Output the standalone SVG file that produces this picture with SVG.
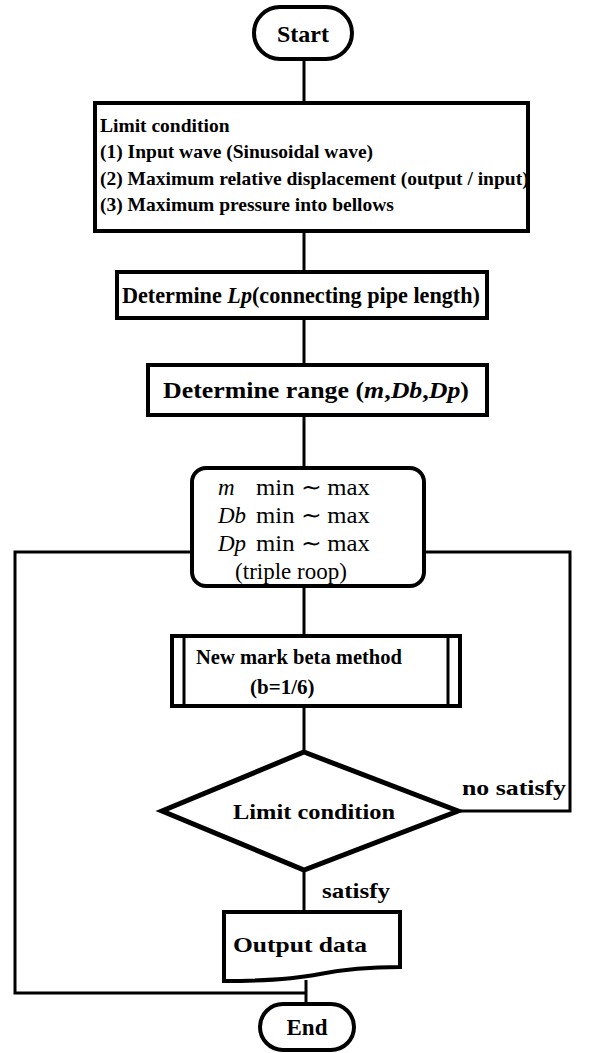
<svg xmlns="http://www.w3.org/2000/svg" width="605" height="1053" viewBox="0 0 605 1053">
<style>
.s{fill:#fff;stroke:#000;stroke-width:4}
.ln{fill:none;stroke:#000;stroke-width:3}
.b{font-family:"Liberation Serif","Times New Roman",serif;font-weight:bold;fill:#000}
.r{font-family:"Liberation Serif","Times New Roman",serif;fill:#000}
</style>
<rect width="605" height="1053" fill="#fff"/>
<g id="connectors">
<path class="ln" d="M304 60V103M304 231V272M304 318V365M304 415V468M304 586V636M304 706V752M304 870V912M306 980V1004"/>
<path class="ln" d="M192 552H15V993H306"/>
<path class="ln" d="M458 811H570V552H424"/>
</g>
<g id="start">
<rect class="s" x="254" y="7" width="98" height="52" rx="26"/>
<text class="b" x="303" y="42" font-size="24" text-anchor="middle">Start</text>
</g>
<g id="limit">
<rect class="s" x="95" y="103" width="433" height="128"/>
<text class="b" font-size="19.5"><tspan x="100" y="132">Limit condition</tspan><tspan x="100" y="158">(1) Input wave (Sinusoidal wave)</tspan><tspan x="100" y="185">(2) Maximum relative displacement (output / input)</tspan><tspan x="100" y="211">(3) Maximum pressure into bellows</tspan></text>
</g>
<g id="lp">
<rect class="s" x="117" y="272" width="370" height="46"/>
<text class="b" x="122" y="303" font-size="22.5" textLength="358" lengthAdjust="spacingAndGlyphs">Determine <tspan font-style="italic">Lp</tspan>(connecting pipe length)</text>
</g>
<g id="range">
<rect class="s" x="148" y="365" width="339" height="50"/>
<text class="b" x="163" y="398" font-size="23" textLength="306" lengthAdjust="spacingAndGlyphs">Determine range (<tspan font-style="italic">m</tspan>,<tspan font-style="italic">Db</tspan>,<tspan font-style="italic">Dp</tspan>)</text>
</g>
<g id="loop">
<rect class="s" x="192" y="468" width="232" height="118" rx="14"/>
<g class="r" font-size="23">
<text x="218" y="495" font-style="italic">m</text>
<text x="218" y="523" font-style="italic">Db</text>
<text x="218" y="551" font-style="italic">Dp</text>
<text x="256" y="495" textLength="114" lengthAdjust="spacingAndGlyphs">min ∼ max</text>
<text x="256" y="523" textLength="114" lengthAdjust="spacingAndGlyphs">min ∼ max</text>
<text x="256" y="551" textLength="114" lengthAdjust="spacingAndGlyphs">min ∼ max</text>
<text x="291" y="579" text-anchor="middle">(triple roop)</text>
</g>
</g>
<g id="newmark">
<rect class="s" x="172" y="636" width="288" height="70"/>
<path class="ln" d="M184 636V706M448 636V706" stroke-width="2"/>
<text class="b" font-size="21"><tspan x="196" y="664" textLength="206" lengthAdjust="spacingAndGlyphs">New mark beta method</tspan><tspan x="250" y="694">(b=1/6)</tspan></text>
</g>
<g id="decision">
<polygon points="304,752 458,811 304,870 162,811" fill="#fff" stroke="#000" stroke-width="5" stroke-linejoin="miter"/>
<text class="b" x="233" y="819" font-size="22" textLength="162" lengthAdjust="spacingAndGlyphs">Limit condition</text>
<text class="b" x="462" y="795" font-size="22" textLength="104" lengthAdjust="spacingAndGlyphs">no satisfy</text>
<text class="b" x="322" y="898" font-size="22" textLength="68" lengthAdjust="spacingAndGlyphs">satisfy</text>
</g>
<g id="output">
<path class="s" d="M224 912H400V967C370 967 345 969 320 974C290 980 255 981 224 981Z"/>
<text class="b" x="233" y="952" font-size="22" textLength="134" lengthAdjust="spacingAndGlyphs">Output  data</text>
</g>
<g id="end">
<rect class="s" x="260" y="1004" width="94" height="46" rx="23"/>
<text class="b" x="307" y="1035" font-size="23" text-anchor="middle">End</text>
</g>
</svg>
